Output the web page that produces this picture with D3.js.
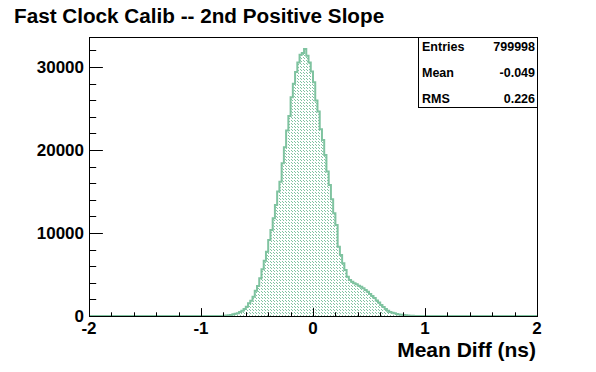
<!DOCTYPE html>
<html lang="en">
<head>
<meta charset="utf-8">
<title>Fast Clock Calib</title>
<script src="https://d3js.org/d3.v7.min.js"></script>
<style>
body { margin: 0; background: #fff; }
svg text { font-family: "Liberation Sans", Arial, Helvetica, sans-serif; font-weight: bold; fill: #000; }
</style>
</head>
<body>
<script>

// histogram: 200 bins from -2 to 2, only the non-empty stretch is listed
var xRange = [-2, 2];
var binWidth = 0.02;
var binStart = -0.82;
var counts = [
  15, 30, 60, 90, 130, 200, 260, 330, 480, 620, 850,
  1120, 1530, 1840, 2330, 3050, 3620, 4540, 5630, 6660, 7750,
  9160, 10360, 11770, 13380, 14980, 16180, 18400, 20330, 22330, 24100,
  26350, 27960, 29370, 30520, 31450, 31660, 32140, 31330, 30520, 29440,
  28160, 25940, 24620, 22500, 21210, 19400, 17390, 15790, 14060, 12380,
  10970, 8350, 7350, 6350, 5540, 4740, 4340, 4130, 3940, 3820,
  3650, 3530, 3340, 3130, 2930, 2650, 2410, 2170, 1870, 1630,
  1330, 1080, 840, 640, 480, 390, 320, 240, 180, 150, 110, 90, 60, 40, 25
];
var yMax = 33600;
var xTicks = [-2, -1, 0, 1, 2];
var yTicks = [0, 10000, 20000, 30000];
var statNames = ["Entries", "Mean", "RMS"];
var statValues = ["799998", "-0.049", "0.226"];
var title = "Fast Clock Calib -- 2nd Positive Slope";
var xTitle = "Mean Diff (ns)";

var W = 596, H = 372;
var frame = {left: 89, right: 537, top: 37, bottom: 316};
var green = "#7fc3a0";

var svg = d3.select("body").append("svg")
    .attr("width", W)
    .attr("height", H);

var x = d3.scaleLinear().domain(xRange).range([frame.left, frame.right]);
var y = d3.scaleLinear().domain([0, yMax]).range([frame.bottom, frame.top]);

// hatch pattern like ROOT's dotted fill
var pat = svg.append("defs").append("pattern")
    .attr("id", "hatch")
    .attr("patternUnits", "userSpaceOnUse")
    .attr("width", 3).attr("height", 3);
pat.append("rect").attr("x", 0).attr("y", 0).attr("width", 1).attr("height", 1).attr("fill", green);
pat.append("rect").attr("x", 1).attr("y", 1).attr("width", 1).attr("height", 1).attr("fill", green);

// step points, including the empty bins on both sides
var pts = [{x: xRange[0], v: 0}];
counts.forEach(function(c, i) {
    pts.push({x: binStart + i * binWidth, v: c});
});
pts.push({x: binStart + counts.length * binWidth, v: 0});
pts.push({x: xRange[1], v: 0});

var area = d3.area()
    .curve(d3.curveStepAfter)
    .x(function(d) { return x(d.x); })
    .y0(y(0))
    .y1(function(d) { return y(d.v); });

var line = d3.line()
    .curve(d3.curveStepAfter)
    .x(function(d) { return x(d.x); })
    .y(function(d) { return y(d.v); });

svg.append("path")
    .attr("d", area(pts))
    .attr("fill", "url(#hatch)")
    .attr("shape-rendering", "crispEdges");

svg.append("path")
    .attr("d", line(pts))
    .attr("fill", "none")
    .attr("stroke", green)
    .attr("stroke-width", 2);

// frame
svg.append("rect")
    .attr("x", frame.left + 0.5)
    .attr("y", frame.top + 0.5)
    .attr("width", frame.right - frame.left)
    .attr("height", frame.bottom - frame.top)
    .attr("fill", "none")
    .attr("stroke", "#000")
    .attr("stroke-width", 1);

// x axis ticks (inside), major + 5 subdivisions
var xMinor = d3.range(-2, 2.0001, 0.2);
svg.append("g").selectAll("line")
    .data(xMinor)
    .enter().append("line")
    .attr("x1", function(d) { return Math.round(x(d)) + 0.5; })
    .attr("x2", function(d) { return Math.round(x(d)) + 0.5; })
    .attr("y1", frame.bottom + 0.5)
    .attr("y2", function(d) {
        var major = xTicks.some(function(t) { return Math.abs(t - d) < 1e-6; });
        return frame.bottom + 0.5 - (major ? 8.4 : 4.2);
    })
    .attr("stroke", "#000");

svg.append("g").selectAll("text")
    .data(xTicks)
    .enter().append("text")
    .attr("x", function(d) { return x(d); })
    .attr("y", 334)
    .attr("text-anchor", "middle")
    .attr("font-size", 17)
    .text(function(d) { return d; });

// y axis ticks (inside)
var yMinor = d3.range(0, yMax, 2000);
svg.append("g").selectAll("line")
    .data(yMinor)
    .enter().append("line")
    .attr("y1", function(d) { return Math.round(y(d)) + 0.5; })
    .attr("y2", function(d) { return Math.round(y(d)) + 0.5; })
    .attr("x1", frame.left + 0.5)
    .attr("x2", function(d) {
        return frame.left + 0.5 + (d % 10000 === 0 ? 13.4 : 6.7);
    })
    .attr("stroke", "#000");

svg.append("g").selectAll("text")
    .data(yTicks)
    .enter().append("text")
    .attr("x", 84)
    .attr("y", function(d) { return y(d) + 6; })
    .attr("text-anchor", "end")
    .attr("font-size", 17)
    .text(function(d) { return d; });

// titles
svg.append("text")
    .attr("x", 14)
    .attr("y", 23)
    .attr("font-size", 20.7)
    .text(title);

svg.append("text")
    .attr("x", frame.right - 1)
    .attr("y", 357)
    .attr("text-anchor", "end")
    .attr("font-size", 21)
    .text(xTitle);

// stats box
var box = {left: 418, top: 37, right: 537, bottom: 107};
svg.append("rect")
    .attr("x", box.left + 0.5)
    .attr("y", box.top + 0.5)
    .attr("width", box.right - box.left)
    .attr("height", box.bottom - box.top)
    .attr("fill", "#fff")
    .attr("stroke", "#000");

statNames.forEach(function(n, i) {
    var by = box.top + 14 + 26 * i;
    svg.append("text")
        .attr("x", box.left + 4)
        .attr("y", by)
        .attr("font-size", 12.5)
        .text(n);
    svg.append("text")
        .attr("x", box.right - 2)
        .attr("y", by)
        .attr("text-anchor", "end")
        .attr("font-size", 12.5)
        .text(statValues[i]);
});

</script>
</body>
</html>
